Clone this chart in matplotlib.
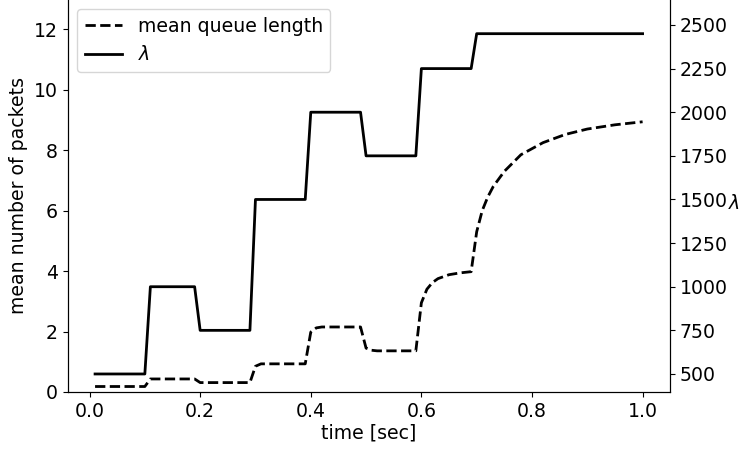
import matplotlib
matplotlib.use('Agg')
import matplotlib.pyplot as plt

# lambda (arrival rate) steps, right axis
lam_t = [0.01, 0.10, 0.11, 0.19, 0.20, 0.29, 0.30, 0.39, 0.40, 0.49,
         0.50, 0.59, 0.60, 0.69, 0.70, 1.00]
lam = [500, 500, 1000, 1000, 750, 750, 1500, 1500, 2000, 2000,
       1750, 1750, 2250, 2250, 2450, 2450]

# mean queue length, left axis
q_t = [0.01, 0.10, 0.11, 0.19, 0.20, 0.29, 0.30, 0.31, 0.39, 0.40,
       0.41, 0.42, 0.49, 0.50, 0.51, 0.52, 0.59, 0.60, 0.61, 0.62,
       0.63, 0.65, 0.67, 0.69, 0.70, 0.71, 0.72, 0.73, 0.75, 0.78,
       0.82, 0.86, 0.90, 0.95, 1.00]
q = [0.18, 0.18, 0.43, 0.43, 0.31, 0.31, 0.85, 0.93, 0.93, 1.98,
     2.12, 2.15, 2.15, 1.45, 1.38, 1.36, 1.36, 2.95, 3.40, 3.62,
     3.75, 3.88, 3.94, 3.98, 5.30, 6.00, 6.45, 6.80, 7.30, 7.85,
     8.25, 8.52, 8.70, 8.84, 8.94]

plt.rcParams['font.size'] = 13.6

fig, ax = plt.subplots(figsize=(7.39, 4.5), dpi=100)
fig.subplots_adjust(left=0.0916, right=0.9066, bottom=0.129, top=1.0)
ax2 = ax.twinx()

l1, = ax.plot(q_t, q, 'k--', lw=2, label='mean queue length')
l2, = ax2.plot(lam_t, lam, 'k-', lw=2, label=r'$\lambda$')

ax.set_ylim(0, 12.97)
ax2.set_ylim(397, 2643)
ax.set_yticks([0, 2, 4, 6, 8, 10, 12])
ax2.set_yticks([500, 750, 1000, 1250, 1500, 1750, 2000, 2250, 2500])
ax.set_xticks([0.0, 0.2, 0.4, 0.6, 0.8, 1.0])

ax.spines['top'].set_visible(False)
ax2.spines['top'].set_visible(False)

ax.set_xlabel('time [sec]', labelpad=2)
ax.set_ylabel('mean number of packets')
ax2.set_ylabel(r'$\lambda$', rotation=0, ha='center', va='center')
ax2.yaxis.set_label_coords(1.106, 0.482)

ax2.legend([l1, l2], ['mean queue length', r'$\lambda$'], loc='upper left')

plt.savefig('out.png', dpi=100)
